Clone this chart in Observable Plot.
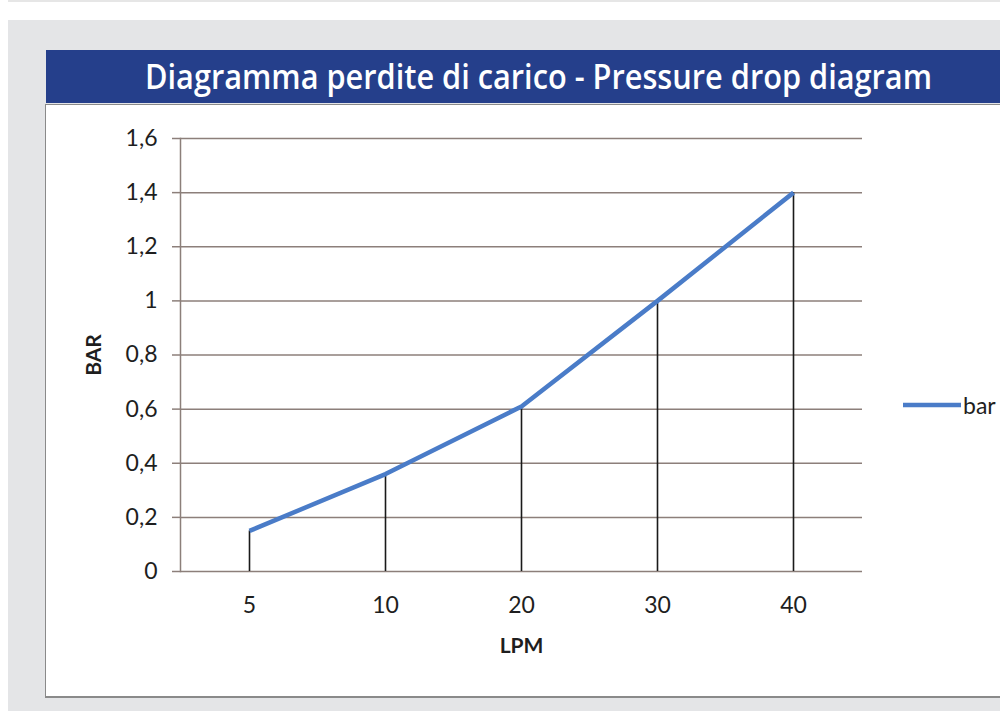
<!DOCTYPE html>
<html>
<head>
<meta charset="utf-8">
<script src="https://cdn.jsdelivr.net/npm/d3@7"></script>
<script src="https://cdn.jsdelivr.net/npm/@observablehq/plot@0.6"></script>
<style>
  html, body { margin: 0; padding: 0; width: 1000px; height: 711px; overflow: hidden; background: #ffffff; font-family: "Open Sans", sans-serif; }
  #topline { position: absolute; left: 8px; top: 0; width: 992px; height: 2px; background: #e6e6e6; }
  #bg { position: absolute; left: 8px; top: 20px; width: 992px; height: 691px; background: #e4e5e7; }
  #titlebar { position: absolute; left: 46px; top: 50px; width: 954px; height: 53px; background: #253f8b; overflow: hidden; }
  #title { position: absolute; left: 145px; top: 50px; height: 53px; line-height: 53px; color: #ffffff; font-family: "Open Sans", sans-serif; font-weight: 600; font-size: 34px; white-space: nowrap; transform-origin: 0 50%; }
  #panel { position: absolute; left: 45px; top: 104px; width: 960px; height: 591px; background: #ffffff; border: 1px solid #8a8a8a; border-bottom: 2px solid #8a8a8a; }
  #chart { position: absolute; left: 45px; top: 104px; }
  #legend { position: absolute; left: 903px; top: 392px; height: 26px; display: flex; align-items: center; font-family: "Lato", sans-serif; font-size: 23px; color: #1e1e1e; }
</style>
</head>
<body>
<div id="topline"></div>
<div id="bg"></div>
<div id="titlebar"></div>
<div id="panel"></div>
<div id="title">Diagramma perdite di carico - Pressure drop diagram</div>
<div id="chart"></div>
<div id="legend"><svg width="58" height="6" style="display:block"><line x1="0" y1="3" x2="58" y2="3" stroke="#4a7cc8" stroke-width="4.5"/></svg><span style="margin-left:2px">bar</span></div>
<script>
// Data
const categories = ["5", "10", "20", "30", "40"];
const values = [0.15, 0.36, 0.61, 1.0, 1.4];
const yTicks = [0, 0.2, 0.4, 0.6, 0.8, 1, 1.2, 1.4, 1.6];
const seriesName = "bar";

const data = categories.map((c, i) => ({lpm: c, bar: values[i]}));
const fmt = d => String(d).replace(".", ",");

const gridColor = "#8c7f7a";
const chart = Plot.plot({
  width: 955,
  height: 593,
  marginLeft: 135,
  marginRight: 138,
  marginTop: 34,
  marginBottom: 126,
  style: {fontFamily: "Lato, sans-serif", fontSize: "23px", color: "#1e1e1e", background: "transparent"},
  x: {type: "band", domain: categories, padding: 0},
  y: {domain: [0, 1.6], ticks: yTicks},
  marks: [
    Plot.ruleY(yTicks, {stroke: gridColor, strokeWidth: 1.5, strokeOpacity: 1}),
    Plot.frame({anchor: "left", stroke: gridColor, strokeWidth: 1.5, strokeOpacity: 1}),
    Plot.axisY({ticks: yTicks, tickFormat: fmt, tickSize: 8, tickPadding: 15, stroke: gridColor, strokeWidth: 1.5, strokeOpacity: 1, fill: "#1e1e1e",
      label: "BAR", labelAnchor: "center", labelArrow: "none", labelOffset: 94}),
    Plot.axisX({tickSize: 0, tickPadding: 25, fill: "#1e1e1e",
      label: "LPM", labelAnchor: "center", labelArrow: "none", labelOffset: 81}),
    Plot.ruleX(data, {x: "lpm", y1: 0, y2: "bar", stroke: "#1a1a1a", strokeWidth: 1.6}),
    Plot.line(data, {x: "lpm", y: "bar", stroke: "#4a7cc8", strokeWidth: 4.5, strokeLinecap: "butt"})
  ]
});
document.getElementById("chart").appendChild(chart);
// bold, smaller axis titles
chart.querySelectorAll("[aria-label='y-axis label'] text, [aria-label='x-axis label'] text").forEach(t => {
  t.setAttribute("font-weight", "bold"); t.style.fontWeight = "bold"; t.style.fontSize = "21px";
});

// Fit title to measured width
const title = document.getElementById("title");
const w = title.getBoundingClientRect().width;
title.style.transform = `scaleX(${787 / w})`;
</script>
</body>
</html>
